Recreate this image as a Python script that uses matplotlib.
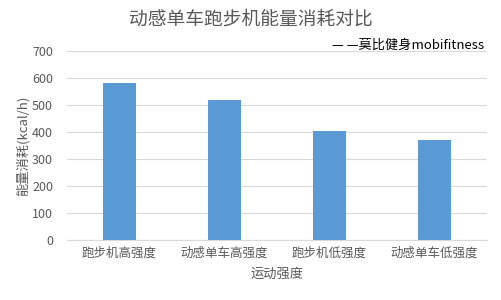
import matplotlib.pyplot as plt

plt.rcParams['font.family'] = ['Noto Sans CJK SC', 'DejaVu Sans']

categories = ["跑步机高强度", "动感单车高强度", "跑步机低强度", "动感单车低强度"]
energy = [580, 520, 405, 370]
yticks = [0, 100, 200, 300, 400, 500, 600, 700]

fig = plt.figure(figsize=(5.02, 3.0), dpi=100)
ax = fig.add_axes([0.1335, 0.2, 0.8365, 0.63])

x = range(len(categories))
ax.bar(x, energy, width=0.31, color="#5b9bd5", zorder=3)
ax.set_xlim(-0.5, len(categories) - 0.5)
ax.set_ylim(0, 700)
ax.set_yticks(yticks)
ax.set_xticks(list(x))
ax.set_xticklabels(categories)

ax.grid(axis="y", color="#d9d9d9", linewidth=0.8, zorder=0)
for s in ["top", "right", "left"]:
    ax.spines[s].set_visible(False)
ax.spines["bottom"].set_color("#d9d9d9")
ax.tick_params(axis="both", length=0, colors="#595959", labelsize=9)
ax.tick_params(axis="x", pad=5)
ax.tick_params(axis="y", pad=10)

ax.set_xlabel("运动强度", color="#595959", fontsize=9.5, labelpad=6)
ax.set_ylabel("能量消耗(kcal/h)", color="#595959", fontsize=9.5, va="center")
ax.yaxis.set_label_coords(-0.105, 0.5)

fig.text(0.5, 0.935, "动感单车跑步机能量消耗对比", ha="center", va="center",
         fontsize=13.5, color="#595959")
fig.text(0.965, 0.848, "— —莫比健身mobifitness", ha="right", va="center",
         fontsize=9.5, color="black")

fig.savefig("out.png", dpi=100)
